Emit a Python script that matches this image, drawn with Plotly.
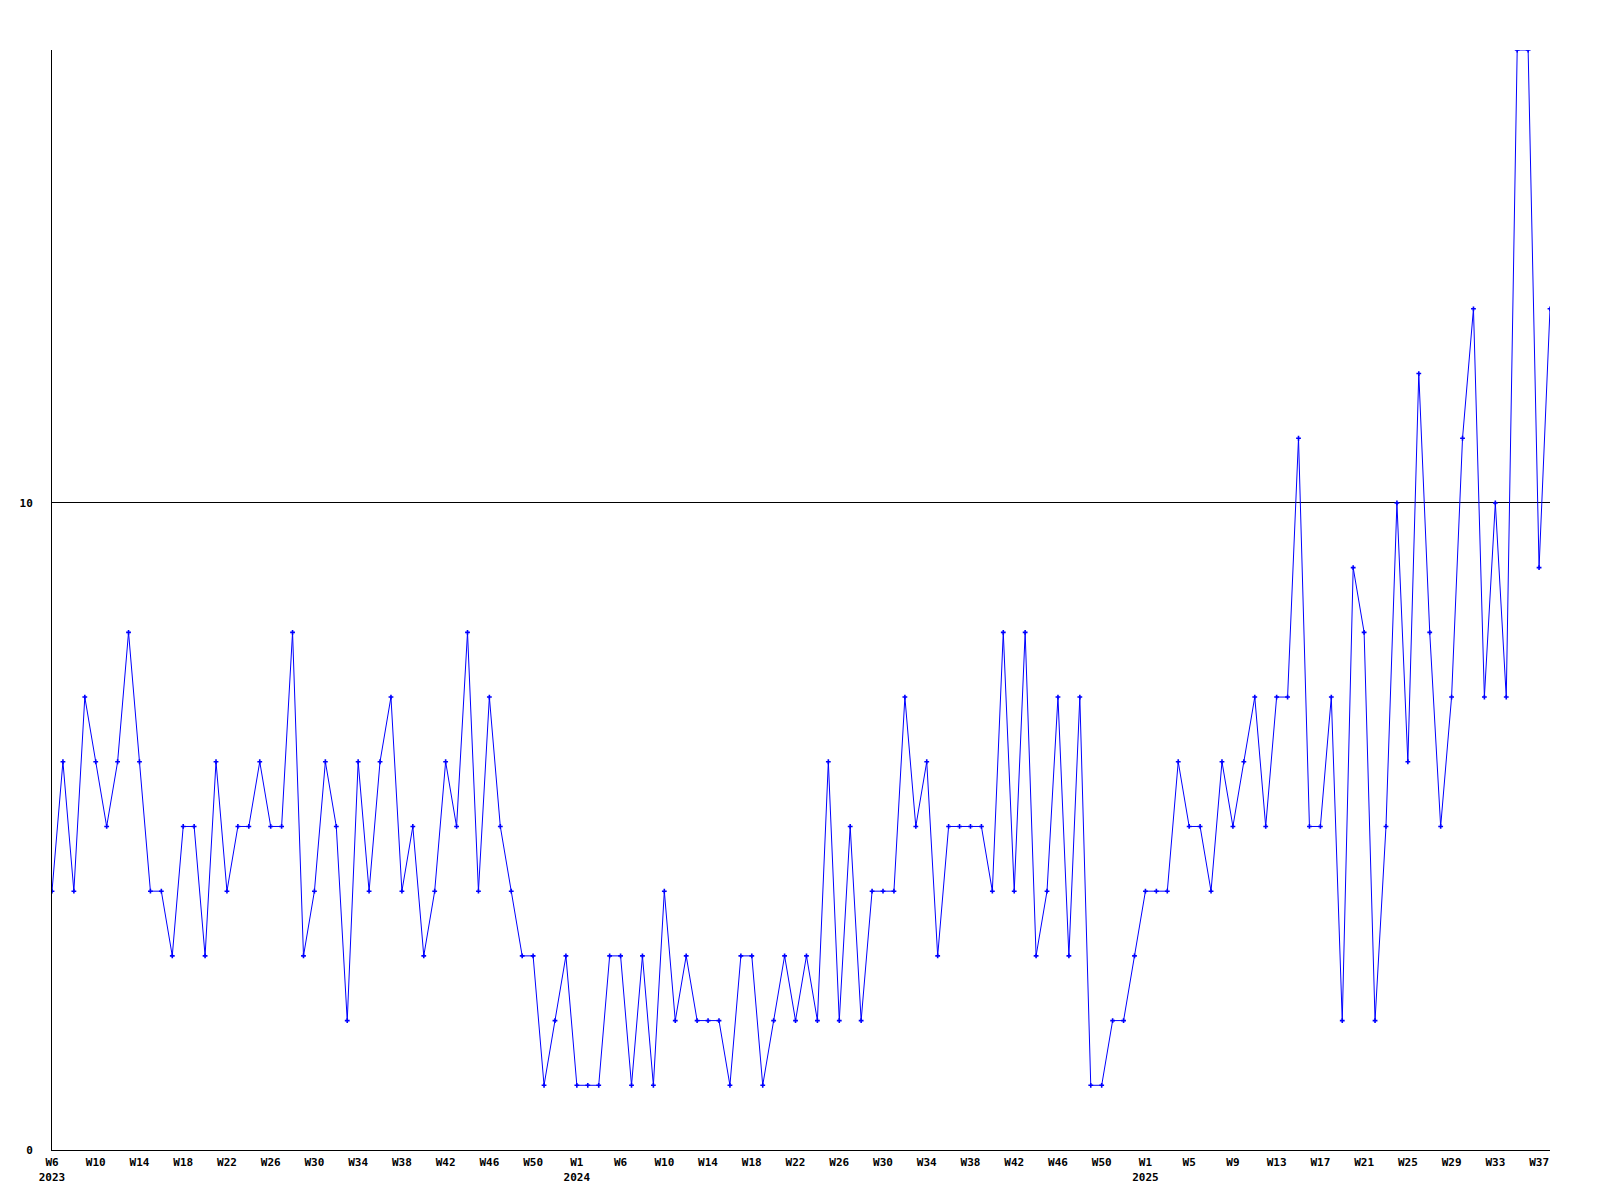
import plotly.graph_objects as go

# Weekly values, 2023 W6 .. 2025 W38 (one point per week)
values = [
    4, 6, 4, 7, 6, 5, 6, 8, 6, 4, 4, 3, 5, 5, 3, 6, 4, 5, 5, 6, 5, 5, 8,
    3, 4, 6, 5, 2, 6, 4, 6, 7, 4, 5, 3, 4, 6, 5, 8, 4, 7, 5, 4, 3, 3, 1,
    2, 3, 1, 1, 1, 3, 3, 1, 3, 1, 4, 2, 3, 2, 2, 2, 1, 3, 3, 1, 2, 3, 2,
    3, 2, 6, 2, 5, 2, 4, 4, 4, 7, 5, 6, 3, 5, 5, 5, 5, 4, 8, 4, 8, 3, 4,
    7, 3, 7, 1, 1, 2, 2, 3, 4, 4, 4, 6, 5, 5, 4, 6, 5, 6, 7, 5, 7, 7,
    11, 5, 5, 7, 2, 9, 8, 2, 5, 10, 6, 12, 8, 5, 7, 11, 13, 7, 10, 7, 17, 17, 9, 13,
]
x_index = list(range(len(values)))

# Tick labels, one every 4 points
tick_labels = [
    "W6<br>2023", "W10", "W14", "W18", "W22", "W26", "W30", "W34", "W38", "W42", "W46", "W50",
    "W1<br>2024", "W6", "W10", "W14", "W18", "W22", "W26", "W30", "W34", "W38", "W42", "W46", "W50",
    "W1<br>2025", "W5", "W9", "W13", "W17", "W21", "W25", "W29", "W33", "W37",
]
tick_positions = [i * 4 for i in range(len(tick_labels))]

y_ticks = [0, 10]
y_max = 17

font = dict(family="DejaVu Sans Mono, Liberation Mono, monospace", size=11, color="black", weight="bold")

fig = go.Figure()
fig.add_trace(go.Scatter(
    x=x_index, y=values, mode="lines+markers",
    line=dict(color="#0000ff", width=1),
    marker=dict(symbol="cross", size=4, color="#0000ff", line=dict(width=0)),
    hoverinfo="skip", showlegend=False,
))

fig.update_layout(
    width=1600, height=1200,
    margin=dict(l=39, r=58, t=42, b=58),
    paper_bgcolor="white", plot_bgcolor="white",
    font=font,
)
fig.update_xaxes(
    range=[0, len(values) - 1],
    tickmode="array", tickvals=tick_positions, ticktext=tick_labels,
    showgrid=False, zeroline=False,
    showline=True, linecolor="black", linewidth=1,
    ticks="", tickangle=0, tickfont=font, ticklabelstandoff=2,
)
fig.update_yaxes(
    range=[0, y_max],
    tickmode="array", tickvals=y_ticks, ticktext=[str(v) for v in y_ticks],
    showgrid=True, gridcolor="black", gridwidth=1,
    zeroline=False,
    showline=True, linecolor="black", linewidth=1,
    ticks="", tickfont=font, ticklabelstandoff=16,
)

fig.write_html("out.html")
